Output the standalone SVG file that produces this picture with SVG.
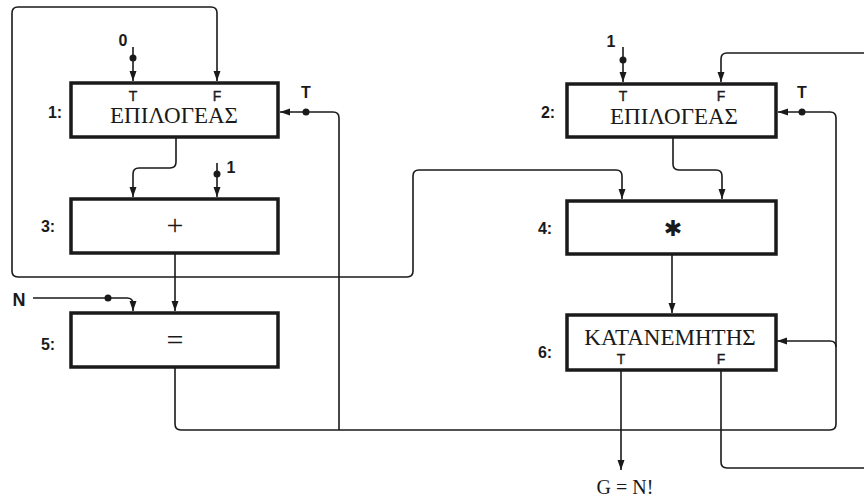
<svg xmlns="http://www.w3.org/2000/svg" width="864" height="497" viewBox="0 0 864 497">
<style>
.box{fill:#fff;stroke:#1a1a1a;stroke-width:3.5}
.c{fill:none;stroke:#1a1a1a;stroke-width:1.6}
.name{font-family:"Liberation Serif",serif;font-size:23px;fill:#1a1a1a;text-anchor:middle}
.num{font-family:"Liberation Sans",sans-serif;font-size:16px;font-weight:bold;fill:#1a1a1a;text-anchor:middle}
.pin{font-family:"Liberation Sans",sans-serif;font-size:14px;fill:#1a1a1a;text-anchor:middle;stroke:#1a1a1a;stroke-width:0.4}
.lbl{font-family:"Liberation Sans",sans-serif;font-size:16px;font-weight:bold;fill:#1a1a1a;text-anchor:middle}
.dot{fill:#1a1a1a}
</style>
<defs>
<marker id="ar" markerUnits="userSpaceOnUse" markerWidth="10" markerHeight="8" refX="10" refY="4" orient="auto">
<path d="M0,0.5 L10,4 L0,7.5 z" fill="#1a1a1a"/>
</marker>
</defs>
<rect width="864" height="497" fill="#fff"/>

<g id="connectors">
<path class="c" d="M175,277 H18 Q12,277 12,271 V13 Q12,7 18,7 H211 Q217,7 217,13 V81" marker-end="url(#ar)"/>
<path class="c" d="M175,277 H407 Q413,277 413,271 V176 Q413,170 419,170 H616 Q622,170 622,176 V199" marker-end="url(#ar)"/>
<path class="c" d="M175,253 V311" marker-end="url(#ar)"/>
<path class="c" d="M176,137 V162 Q176,168 170,168 H139 Q133,168 133,174 V197" marker-end="url(#ar)"/>
<path class="c" d="M217,163 V197" marker-end="url(#ar)"/>
<path class="c" d="M133,47 V81" marker-end="url(#ar)"/>
<path class="c" d="M339,430 V118 Q339,112 333,112 H280" marker-end="url(#ar)"/>
<path class="c" d="M175,367 V424 Q175,430 181,430 H830 Q836,430 836,424 V118 Q836,112 830,112 H778" marker-end="url(#ar)"/>
<path class="c" d="M836,347 Q836,341 830,341 H777" marker-end="url(#ar)"/>
<path class="c" d="M33,298 H127 Q133,298 133,304 V311" marker-end="url(#ar)"/>
<path class="c" d="M673,137 V164 Q673,170 679,170 H716 Q722,170 722,176 V199" marker-end="url(#ar)"/>
<path class="c" d="M672,254 V313" marker-end="url(#ar)"/>
<path class="c" d="M623,47 V82" marker-end="url(#ar)"/>
<path class="c" d="M864,53 H727 Q721,53 721,59 V82" marker-end="url(#ar)"/>
<path class="c" d="M621,370 V470" marker-end="url(#ar)"/>
<path class="c" d="M721,370 V462 Q721,468 727,468 H864"/>
<circle class="dot" cx="133" cy="58" r="3.5"/>
<circle class="dot" cx="217" cy="174" r="3.5"/>
<circle class="dot" cx="306" cy="112" r="3.5"/>
<circle class="dot" cx="108" cy="298" r="3.5"/>
<circle class="dot" cx="623" cy="60" r="3.5"/>
<circle class="dot" cx="802" cy="112" r="3.5"/>
<text class="lbl" x="123" y="46">0</text>
<text class="lbl" x="611" y="47">1</text>
<text class="lbl" x="231" y="173">1</text>
<text class="lbl" x="306" y="98">T</text>
<text class="lbl" x="802" y="98">T</text>
<text class="lbl" x="19" y="306" style="font-size:18px">N</text>
<text class="name" x="625" y="494" style="font-size:20px">G = N!</text>
</g>

<g id="node1">
<rect class="box" x="71" y="83" width="207" height="54"/>
<text class="num" x="55" y="118">1:</text>
<text class="pin" x="133" y="101">T</text>
<text class="pin" x="217" y="101">F</text>
<text class="name" x="174" y="123">ΕΠΙΛΟΓΕΑΣ</text>
</g>
<g id="node2">
<rect class="box" x="567" y="84" width="209" height="53"/>
<text class="num" x="548" y="118">2:</text>
<text class="pin" x="623" y="101">T</text>
<text class="pin" x="721" y="101">F</text>
<text class="name" x="674" y="124">ΕΠΙΛΟΓΕΑΣ</text>
</g>
<g id="node3">
<rect class="box" x="71" y="199" width="207" height="54"/>
<text class="num" x="48" y="232">3:</text>
<text class="name" x="175" y="235" style="font-size:30px">+</text>
</g>
<g id="node4">
<rect class="box" x="567" y="201" width="209" height="53"/>
<text class="num" x="545" y="234">4:</text>
<text x="673" y="236" style="font-family:'DejaVu Sans',sans-serif;font-size:22px;fill:#1a1a1a;text-anchor:middle">✱</text>
</g>
<g id="node5">
<rect class="box" x="71" y="313" width="207" height="54"/>
<text class="num" x="48" y="350">5:</text>
<text class="name" x="175" y="350" style="font-size:30px">=</text>
</g>
<g id="node6">
<rect class="box" x="567" y="315" width="209" height="55"/>
<text class="num" x="545" y="358">6:</text>
<text class="name" x="670" y="345">ΚΑΤΑΝΕΜΗΤΗΣ</text>
<text class="pin" x="621" y="364">T</text>
<text class="pin" x="721" y="364">F</text>
</g>
</svg>
